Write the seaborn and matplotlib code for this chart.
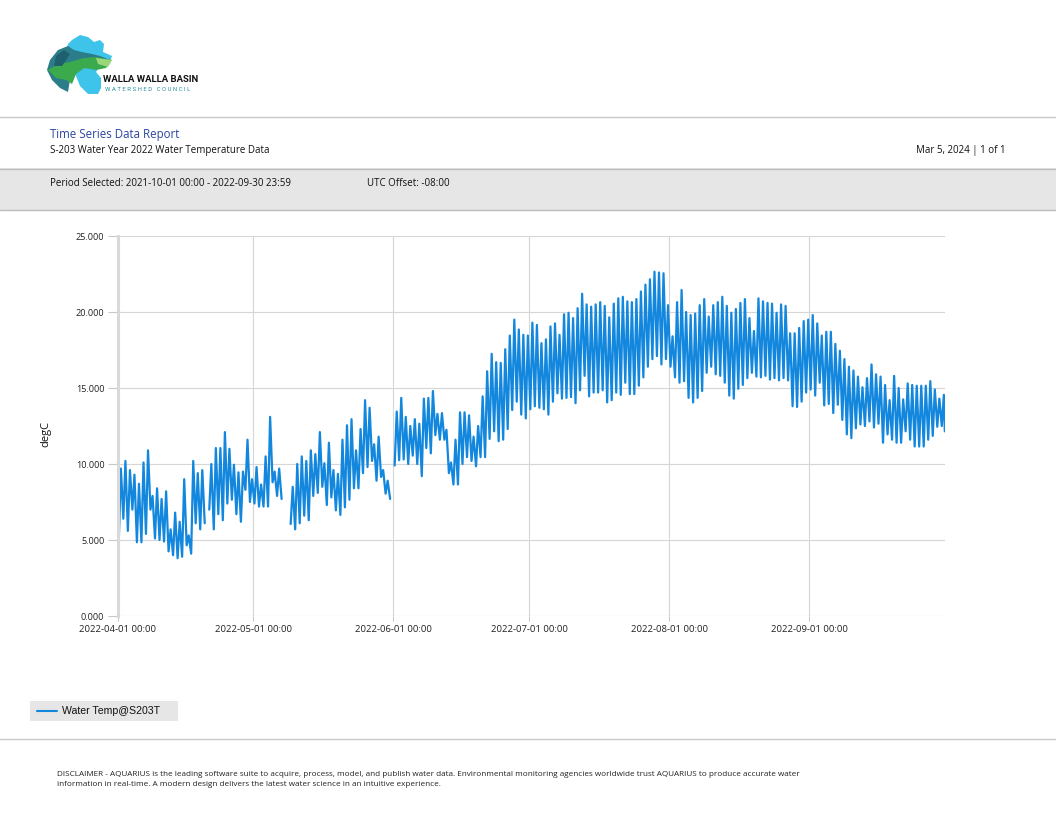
import numpy as np
import pandas as pd
import matplotlib
matplotlib.use('Agg')
import matplotlib.pyplot as plt
from matplotlib.patches import Rectangle, Polygon
import seaborn as sns

nan = np.nan

# daily min / max water temperature (degC), nan = no data
apr_min = [5.0, 6.4, 5.6, 7.0, 4.85, 4.85, 5.4, 7.0, 5.1, 5.0, 4.9, 4.25, 4.0, 3.8, 3.9,
           4.65, 4.1, 6.1, 5.7, 6.1, 7.0, 5.7, 6.7, 6.3, 7.4, 7.65, 6.7, 6.2, 8.3, 7.5]
apr_max = [9.7, 10.2, 9.6, 9.3, 8.7, 10.1, 10.9, 7.9, 8.4, 7.7, 8.2, 5.7, 6.8, 6.2, 9.0,
           5.3, 10.2, 9.4, 9.6, nan, 10.0, 11.05, 11.05, 12.1, 11.0, 9.95, 9.45, 9.5, 11.6, 9.0]
may_min = [7.4, 7.2, 7.2, 7.2, 8.8, 7.9, 7.7, nan, 6.05, 5.7, 6.1, 6.6, 6.3, 7.9, 8.1, 8.5,
           7.3, 7.8, 6.95, 6.65, 7.15, 7.65, 8.4, 8.4, 9.4, 9.8, 10.2, 8.9, 9.15, 8.05, 7.7]
may_max = [9.8, 8.65, 10.5, 13.1, 9.5, 9.7, nan, nan, 8.5, 10.0, 10.5, 10.2, 10.9, 10.65,
           12.1, 10.05, 11.4, 9.6, 9.35, 11.6, 12.55, 12.95, 10.9, 12.3, 14.2, 13.7, 11.3,
           11.8, 9.6, 8.9, nan]
jun_min = [9.9, 10.25, 10.3, 10.0, 10.55, 10.0, 9.2, 11.05, 10.7, 11.9, 11.6, 11.6, 9.4, 8.65,
           8.65, 10.0, 10.45, 10.2, 9.85, 10.45, 10.45, 11.65, 12.15, 11.5, 11.6, 12.3, 13.55,
           14.1, 13.25, 13.0]
jun_max = [13.45, 14.35, 13.1, 12.5, 12.95, 12.65, 14.3, 14.35, 14.8, 13.3, 13.35, 12.25, 10.1,
           11.6, 13.4, 13.4, 13.2, 11.8, 12.5, 14.45, 16.1, 17.25, 16.7, 16.65, 17.55, 18.45,
           19.5, 18.85, 18.5, 18.45]
jul_min = [13.6, 13.8, 13.7, 13.6, 13.25, 14.1, 14.65, 14.3, 14.35, 14.4, 14.0, 14.85, 15.8,
           14.45, 14.7, 14.7, 14.85, 14.05, 14.2, 14.7, 14.55, 15.35, 14.6, 14.6, 15.15, 15.7,
           16.4, 16.9, 17.1, 16.55, 16.9]
jul_max = [19.3, 19.15, 17.95, 18.2, 19.05, 19.25, 18.5, 19.85, 19.95, 19.6, 20.25, 21.2, 20.5,
           20.35, 20.5, 20.65, 20.4, 19.65, 20.55, 20.9, 21.0, 20.7, 20.65, 20.85, 21.35, 21.8,
           22.15, 22.65, 22.6, 22.55, 20.45]
aug_min = [16.4, 15.7, 15.35, 15.45, 14.35, 14.05, 14.35, 14.8, 16.0, 16.4, 15.9, 15.8, 15.35,
           14.5, 14.3, 14.95, 15.2, 15.65, 16.0, 15.75, 15.7, 15.8, 15.55, 15.65, 15.5, 15.65,
           15.5, 13.8, 13.75, 14.1, 14.7]
aug_max = [18.4, 20.65, 21.45, 20.0, 19.8, 19.9, 20.45, 20.85, 19.7, 20.45, 20.65, 21.0, 20.4,
           19.95, 20.2, 20.6, 20.85, 19.6, 18.75, 20.9, 20.7, 20.6, 20.55, 19.95, 20.5, 20.4,
           18.6, 18.6, 18.95, 19.4, 19.5]
sep_min = [14.9, 14.5, 15.35, 13.85, 13.95, 13.35, 13.9, 12.9, 11.95, 11.7, 12.35, 12.6, 12.5,
           12.8, 12.4, 12.65, 11.4, 11.95, 11.6, 11.4, 11.4, 12.15, 11.6, 11.15, 11.15, 11.15,
           11.6, 11.85, 12.45, 12.5]
sep_max = [19.8, 19.25, 18.45, 18.7, 18.7, 17.9, 17.45, 16.9, 16.4, 16.15, 15.75, 15.05, 15.65,
           16.55, 15.9, 15.75, 15.2, 14.2, 15.8, 15.0, 14.25, 15.3, 15.2, 15.15, 15.15, 15.15,
           15.45, 14.9, 14.3, 14.55]
first_temp = 8.7
last_temp = 12.15

x_ticks = ['2022-04-01', '2022-05-01', '2022-06-01', '2022-07-01', '2022-08-01', '2022-09-01']
y_ticks = [0, 5, 10, 15, 20, 25]

sns.set_theme(style='white')
plt.rcParams['font.family'] = ['Open Sans', 'DejaVu Sans']

line_blue = '#1287dd'
grid_grey = '#d6d6d6'

# build the series: minimum early morning, maximum early evening
daily_min = apr_min + may_min + jun_min + jul_min + aug_min + sep_min
daily_max = apr_max + may_max + jun_max + jul_max + aug_max + sep_max
days = pd.date_range('2022-04-01', periods=len(daily_min), freq='D')

times = [pd.Timestamp('2022-04-01 00:00')]
temps = [first_temp]
for day, lo, hi in zip(days, daily_min, daily_max):
    times += [day + pd.Timedelta(hours=7), day + pd.Timedelta(hours=18)]
    temps += [lo, hi]
times.append(pd.Timestamp('2022-09-30 23:00'))
temps.append(last_temp)

df = pd.DataFrame({'time': times, 'temp': temps})
df['seg'] = df['temp'].isna().cumsum()
df = df.dropna()

W, H = 1056, 816
fig = plt.figure(figsize=(W / 100, H / 100), dpi=100)

# page furniture drawn in pixel coordinates
bg = fig.add_axes([0, 0, 1, 1], zorder=0)
bg.set_xlim(0, W)
bg.set_ylim(H, 0)
bg.axis('off')

# logo
bg.add_patch(Polygon([(72, 40), (80, 35), (88, 37), (94, 42), (100, 40), (104, 44), (103, 52),
                      (112, 56), (110, 62), (100, 66), (96, 72), (101, 78), (101, 88), (98, 94),
                      (88, 94), (80, 86), (76, 76), (70, 64), (66, 52), (68, 44)],
                     closed=True, fc='#3ec3ea', ec='none'))
bg.add_patch(Polygon([(50, 60), (58, 50), (68, 46), (74, 50), (82, 52), (92, 54), (100, 56),
                      (110, 60), (102, 62), (90, 62), (80, 64), (74, 70), (70, 80), (68, 92),
                      (60, 88), (52, 80), (47, 70)], closed=True, fc='#2b7d8a', ec='none'))
bg.add_patch(Polygon([(48, 70), (58, 64), (70, 62), (84, 58), (96, 57), (112, 60), (106, 68),
                      (96, 70), (84, 68), (76, 74), (72, 84), (66, 80), (56, 78)],
                     closed=True, fc='#3aaa4c', ec='none'))
bg.add_patch(Polygon([(96, 58), (112, 60), (108, 67), (98, 64)], closed=True, fc='#9ad67a', ec='none'))
bg.add_patch(Polygon([(56, 56), (64, 50), (70, 54), (62, 66), (54, 66)], closed=True,
                     fc='#1f5f6e', ec='none'))
bg.text(103, 80, 'WALLA WALLA BASIN', fontsize=6.8, fontweight='bold', color='#111111',
        va='center', ha='left', family=['Roboto', 'DejaVu Sans'])
bg.text(105, 89.5, 'W A T E R S H E D   C O U N C I L', fontsize=4.3, color='#2a8fa0',
        va='center', ha='left', family=['Roboto', 'DejaVu Sans'])

bg.plot([0, W], [117, 117], color='#c8c8c8', lw=1)
bg.text(50, 134.5, 'Time Series Data Report', fontsize=8.3, color='#2c44a0', va='center')
bg.text(50, 150, 'S-203 Water Year 2022 Water Temperature Data', fontsize=7.0,
        color='#111111', va='center')
bg.text(1006, 150, 'Mar 5, 2024 | 1 of 1', fontsize=7.0, color='#111111',
        va='center', ha='right')

bg.add_patch(Rectangle((0, 168), W, 42, fc='#e6e6e6', ec='none'))
bg.plot([0, W], [168.5, 168.5], color='#bdbdbd', lw=1)
bg.plot([0, W], [210, 210], color='#bdbdbd', lw=1)
bg.text(50, 183, 'Period Selected: 2021-10-01 00:00 - 2022-09-30 23:59', fontsize=7.0,
        color='#111111', va='center')
bg.text(367, 183, 'UTC Offset: -08:00', fontsize=7.0, color='#111111', va='center')

# legend
bg.add_patch(Rectangle((30, 701), 148, 20, fc='#e6e6e6', ec='none'))
bg.plot([37, 57], [711, 711], color=line_blue, lw=1.5)
bg.text(62, 711, 'Water Temp@S203T', fontsize=7.6, color='#111111', va='center',
        family=['Liberation Sans', 'DejaVu Sans'])

bg.plot([0, W], [738.5, 738.5], color='#c8c8c8', lw=1)
bg.text(57, 774, 'DISCLAIMER - AQUARIUS is the leading software suite to acquire, process, model, '
        'and publish water data. Environmental monitoring agencies worldwide trust AQUARIUS to '
        'produce accurate water', fontsize=5.9, color='#222222', va='center')
bg.text(57, 785, 'information in real-time. A modern design delivers the latest water science '
        'in an intuitive experience.', fontsize=5.9, color='#222222', va='center')

# chart
left, right, top, bottom = 117.5, 945, 236, 616
ax = fig.add_axes([left / W, 1 - bottom / H, (right - left) / W, (bottom - top) / H], zorder=1)
ax.set_facecolor('none')
sns.lineplot(data=df, x='time', y='temp', units='seg', estimator=None, color=line_blue,
             linewidth=1.6, ax=ax, legend=False)

ax.set_xlim(pd.Timestamp('2022-04-01'), pd.Timestamp('2022-10-01'))
ax.set_ylim(0, 25)
ax.set_yticks(y_ticks)
ax.set_yticklabels([f'{v:.3f}' for v in y_ticks])
ax.set_xticks(pd.to_datetime(x_ticks))
ax.set_xticklabels([f'{t} 00:00' for t in x_ticks])
ax.grid(True, color=grid_grey, linewidth=0.8)
ax.set_axisbelow(True)
for side in ['top', 'right', 'bottom']:
    ax.spines[side].set_visible(False)
ax.spines['left'].set_color('#d9d9d9')
ax.spines['left'].set_linewidth(2.2)
ax.tick_params(axis='y', length=7.5, width=0.8, color='#c8c8c8', pad=2, labelsize=6.6,
               labelcolor='#222222', left=True)
ax.tick_params(axis='x', length=3.5, width=0.8, color='#c8c8c8', pad=3, labelsize=6.8,
               labelcolor='#222222', bottom=True)
ax.set_xlabel('')
ax.set_ylabel('degC', fontsize=8, color='#111111')
ax.yaxis.set_label_coords((51 - left) / (right - left), 0.48)

fig.savefig('out.png', dpi=100)
